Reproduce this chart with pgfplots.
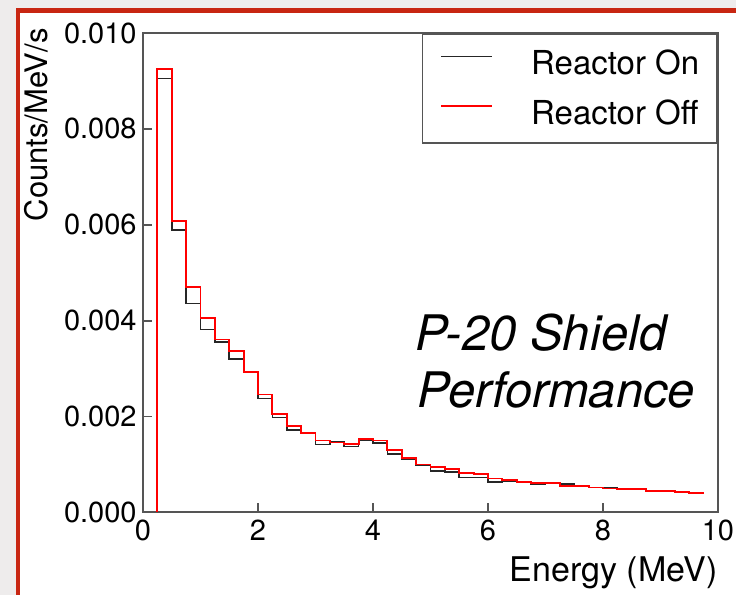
\documentclass[border=0pt]{standalone}
\usepackage{pgfplots}
\pgfplotsset{compat=1.18}
\usepackage{fontspec}
\setmainfont{TeX Gyre Heros}
\definecolor{slidegray}{RGB}{238,236,236}
\definecolor{frame}{RGB}{200,38,18}
\definecolor{axgray}{RGB}{85,85,85}
\begin{document}
\begin{tikzpicture}
\begin{scope}[x=0.5pt,y=-0.5pt]
\fill[slidegray] (0,0) rectangle (736,595);
\fill[white] (18,10) rectangle (736,595);
\fill[frame] (16,8.3) rectangle (20.5,595);
\fill[frame] (16,8.3) rectangle (736,12.7);
\end{scope}
\begin{axis}[
  at={(71.5pt,-16.5pt)}, anchor=north west,
  scale only axis, width=287.5pt, height=239.75pt,
  xmin=0, xmax=10, ymin=0, ymax=0.010,
  xtick={0,2,4,6,8,10},
  ytick={0,0.002,0.004,0.006,0.008,0.010},
  scaled y ticks=false,
  yticklabel style={/pgf/number format/fixed, /pgf/number format/fixed zerofill, /pgf/number format/precision=3},
  /pgf/number format/assume math mode=true,
  tick align=inside, tick pos=left,
  major tick length=4.5pt,
  axis line style={axgray, line width=1pt},
  tick style={axgray, line width=0.8pt},
  tick label style={font=\fontsize{14.5}{16}\selectfont},
  xticklabel style={inner sep=0pt, yshift=-3.5pt},
  yticklabel style={inner sep=0pt, xshift=-3pt},
  legend style={at={(1,1)}, anchor=north east, draw=axgray, line width=0.8pt,
    fill=white, font=\fontsize{16.5}{19}\selectfont,
    inner xsep=9pt, inner ysep=8pt, row sep=11pt,
    nodes={inner sep=0pt}, cells={anchor=west},
    /tikz/every odd column/.append style={column sep=19pt}},
  legend image code/.code={\draw[#1] (0pt,0.36em) -- (25.5pt,0.36em);},
]
\addplot[black!85, line width=0.8pt, const plot mark left] coordinates {
(0.25,0) (0.25,0.00905) (0.5,0.00589) (0.75,0.00436) (1.0,0.00382) (1.25,0.00356)
(1.5,0.00320) (1.75,0.00293) (2.0,0.00238) (2.25,0.00198) (2.5,0.00172) (2.75,0.00165)
(3.0,0.00142) (3.25,0.00147) (3.5,0.00138) (3.75,0.00151) (4.0,0.00145) (4.25,0.00122)
(4.5,0.00112) (4.75,0.00099) (5.0,0.00086) (5.25,0.00085) (5.5,0.00073) (5.75,0.00073)
(6.0,0.00064) (6.25,0.00066) (6.5,0.00063) (6.75,0.00059) (7.0,0.00062) (7.25,0.00059)
(7.5,0.00056) (7.75,0.00052) (8.0,0.00051) (8.25,0.00049) (8.5,0.00050) (8.75,0.00045)
(9.0,0.00045) (9.25,0.00042) (9.5,0.00040) (9.75,0.00040)};
\addlegendentry{Reactor On}
\addplot[red, line width=0.9pt, const plot mark left] coordinates {
(0.25,0) (0.25,0.00925) (0.5,0.00608) (0.75,0.00470) (1.0,0.00405) (1.25,0.00361)
(1.5,0.00336) (1.75,0.00293) (2.0,0.00246) (2.25,0.00205) (2.5,0.00180) (2.75,0.00166)
(3.0,0.00150) (3.25,0.00146) (3.5,0.00143) (3.75,0.00153) (4.0,0.00150) (4.25,0.00131)
(4.5,0.00114) (4.75,0.00100) (5.0,0.00095) (5.25,0.00091) (5.5,0.00082) (5.75,0.00080)
(6.0,0.00071) (6.25,0.00068) (6.5,0.00064) (6.75,0.00061) (7.0,0.00061) (7.25,0.00056)
(7.5,0.00056) (7.75,0.00052) (8.0,0.00050) (8.25,0.00049) (8.5,0.00049) (8.75,0.00045)
(9.0,0.00045) (9.25,0.00043) (9.5,0.00040) (9.75,0.00040)};
\addlegendentry{Reactor Off}
\end{axis}
\begin{scope}[x=0.5pt,y=-0.5pt]
\node[rotate=90, anchor=base east, inner sep=0pt, font=\fontsize{15.5}{18}\selectfont] at (47,28) {Counts/MeV/s};
\node[anchor=base east, inner sep=0pt, font=\fontsize{17}{20}\selectfont] at (718,581) {Energy (MeV)};
\node[anchor=base west, inner sep=0pt, font=\fontsize{24.5}{28}\selectfont\itshape] at (415,350) {P-20 Shield};
\node[anchor=base west, inner sep=0pt, font=\fontsize{24.5}{28}\selectfont\itshape] at (417,407) {Performance};
\end{scope}
\end{tikzpicture}
\end{document}
